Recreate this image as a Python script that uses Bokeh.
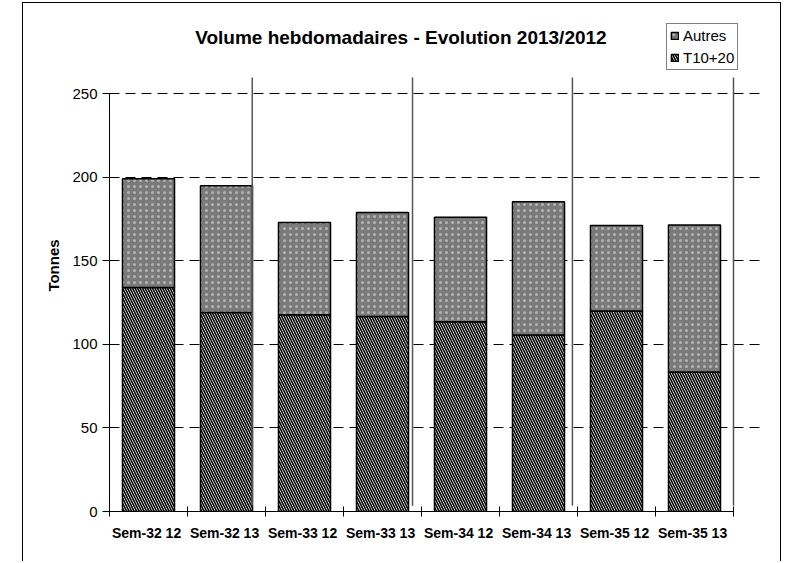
import numpy as np
from bokeh.plotting import figure
from bokeh.models import (ColumnDataSource, Range1d, FixedTicker, Legend, LegendItem)
from bokeh.core.properties import value
from bokeh.embed import file_html
from bokeh.resources import INLINE

# ---- data ----
categories = ["Sem-32  12", "Sem-32  13", "Sem-33  12", "Sem-33  13",
              "Sem-34  12", "Sem-34  13", "Sem-35  12", "Sem-35  13"]
t10_20 = [134.0, 119.0, 117.7, 116.7, 113.5, 105.5, 119.9, 83.5]
autres = [65.0, 75.9, 55.2, 62.2, 62.5, 79.8, 51.1, 87.9]
y_ticks = [0, 50, 100, 150, 200, 250]
separators = [1.83, 3.885, 5.935, 8.0]   # thin vertical rules between week pairs
title_text = "Volume hebdomadaires  - Evolution 2013/2012"

FONT = "Liberation Sans"

n = len(categories)
xc = np.arange(n) + 0.5
t10 = np.array(t10_20)
aut = np.array(autres)
src = ColumnDataSource(dict(x=xc, t10=t10, top=t10 + aut, label=categories))

p = figure(width=759, height=559,
           x_range=Range1d(0, 8.359), y_range=Range1d(0, 294.26),
           output_backend="svg", toolbar_location=None,
           min_border_left=86, min_border_right=21,
           min_border_top=16, min_border_bottom=51)
p.margin = (2, 0, 0, 22)
p.styles = {"border-left": "1px solid black", "border-right": "1px solid black",
            "border-top": "1px solid black"}
p.outline_line_color = None
p.background_fill_color = "white"
p.border_fill_color = "white"

# grid
p.xgrid.visible = False
p.ygrid.ticker = FixedTicker(ticks=y_ticks[1:])
p.ygrid.grid_line_color = "black"
p.ygrid.grid_line_dash = "10 6"
p.ygrid.grid_line_width = 1
p.ygrid.bounds = (0, n)

# bars
r_t10 = p.vbar(x="x", bottom=0, top="t10", width=0.667, source=src,
               fill_color="white", hatch_pattern="\\", hatch_color="black",
               hatch_scale=5, hatch_weight=1.6,
               line_color="black", line_width=1.5)
r_aut = p.vbar(x="x", bottom="t10", top="top", width=0.667, source=src,
               fill_color="#7a7a7a", hatch_pattern=".", hatch_color="#b4b4b4",
               hatch_scale=6, hatch_weight=1.3,
               line_color="black", line_width=1.5)

# separators
p.segment(x0=separators, y0=[3.5] * len(separators),
          x1=separators, y1=[259.6] * len(separators),
          line_color="#555555", line_width=1.5)

# title
p.text(x=[3.77], y=[283.5], text=[title_text],
       text_font=value(FONT), text_font_style="bold", text_font_size="19px",
       text_align="center", text_baseline="middle", text_color="black")

# axes
xa = p.xaxis[0]
xa.ticker = FixedTicker(ticks=list(xc), minor_ticks=list(range(n + 1)))
xa.major_label_overrides = {float(x): lab for x, lab in zip(xc, categories)}
xa.bounds = (0, n)
xa.major_tick_in = 0
xa.major_tick_out = 0
xa.minor_tick_in = 5
xa.minor_tick_out = 5
xa.minor_tick_line_color = "black"
xa.axis_line_color = "black"
xa.major_label_text_font = FONT
xa.major_label_text_font_style = "bold"
xa.major_label_text_font_size = "14px"
xa.major_label_text_color = "black"
xa.major_label_standoff = 8

ya = p.yaxis[0]
ya.ticker = FixedTicker(ticks=y_ticks)
ya.bounds = (0, 250)
ya.minor_tick_line_color = None
ya.major_tick_in = 5
ya.major_tick_out = 7
ya.major_tick_line_color = "black"
ya.axis_line_color = "black"
ya.major_label_text_font = FONT
ya.major_label_text_font_size = "15px"
ya.major_label_text_color = "black"
ya.major_label_standoff = 5
ya.axis_label = "Tonnes"
ya.axis_label_text_font = FONT
ya.axis_label_text_font_style = "bold"
ya.axis_label_text_font_size = "15px"
ya.axis_label_text_color = "black"
ya.axis_label_standoff = 7

legend = Legend(items=[LegendItem(label="Autres", renderers=[r_aut]),
                       LegendItem(label="T10+20", renderers=[r_t10])],
                location=(557, 441), orientation="vertical")
legend.border_line_color = "black"
legend.border_line_width = 1
legend.background_fill_color = "white"
legend.background_fill_alpha = 1
legend.label_text_font = FONT
legend.label_text_font_size = "15px"
legend.label_text_color = "black"
legend.glyph_width = 9
legend.glyph_height = 9
legend.label_height = 17
legend.label_standoff = 4
legend.spacing = 5
legend.padding = 3
legend.margin = 0
p.add_layout(legend, "center")

open("out.html", "w").write(file_html(p, INLINE))
